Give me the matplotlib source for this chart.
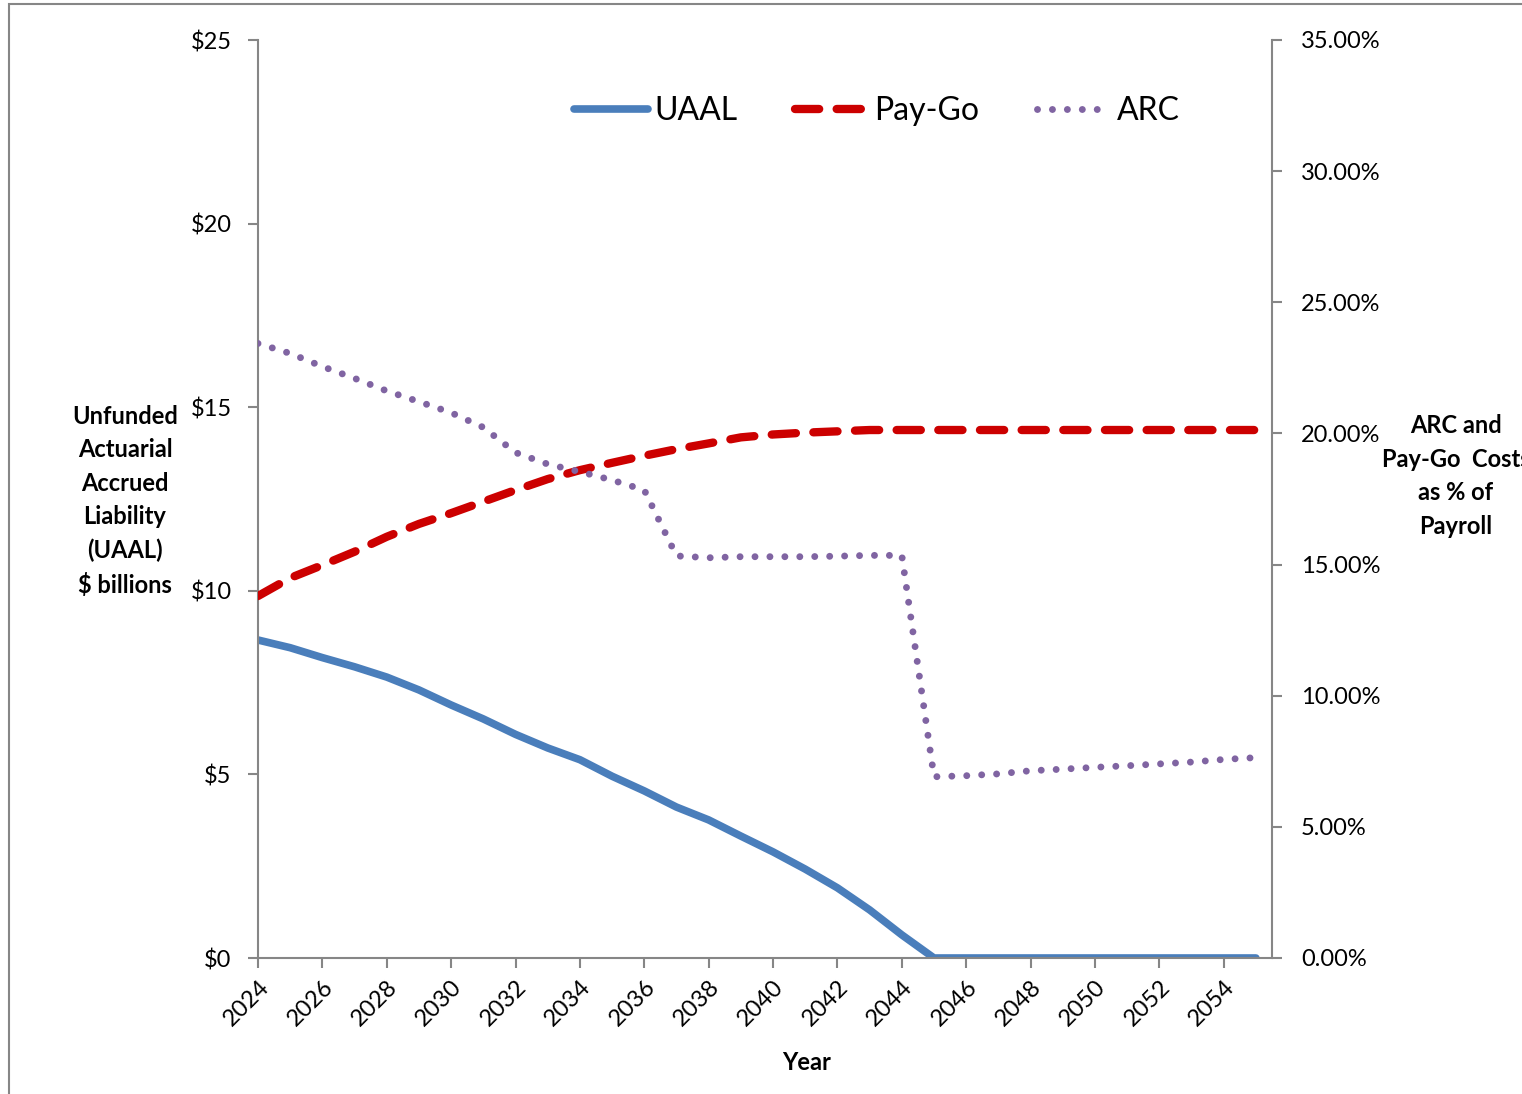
import matplotlib
matplotlib.use("Agg")
import matplotlib.pyplot as plt
from matplotlib.patches import Rectangle
from matplotlib.ticker import FuncFormatter

plt.rcParams['font.family'] = ['Lato', 'DejaVu Sans']

years = list(range(2024, 2056))
uaal = [8.66, 8.45, 8.18, 7.93, 7.65, 7.30, 6.89, 6.51, 6.09, 5.72, 5.40,
        4.95, 4.55, 4.11, 3.76, 3.32, 2.89, 2.42, 1.91, 1.31, 0.63] + [0.0] * 11
paygo = [13.80, 14.49, 14.98, 15.49, 16.06, 16.55, 16.96, 17.40, 17.84, 18.26,
         18.60, 18.88, 19.15, 19.40, 19.62, 19.85, 19.96, 20.03, 20.08, 20.13] + [20.13] * 12
arc = [23.43, 23.05, 22.55, 22.10, 21.62, 21.21, 20.79, 20.23, 19.27, 18.83,
       18.54, 18.22, 17.84,
       15.33, 15.26, 15.30, 15.30, 15.30, 15.32, 15.35, 15.35,
       6.91, 6.95, 7.02, 7.14, 7.20, 7.27, 7.33, 7.40, 7.47, 7.57, 7.64]
year_ticks = list(range(2024, 2055, 2))

gray = "#868686"

fig = plt.figure(figsize=(15.22, 10.94), dpi=100)
ax = fig.add_axes([258 / 1522, 1 - 958 / 1094, (1272 - 258) / 1522, (958 - 40) / 1094])
ax2 = ax.twinx()

# outer chart frame (only left and top edges visible in the crop)
fig.add_artist(Rectangle((9 / 1522, -0.05), 1.1, 1 - 4 / 1094 + 0.05,
                         transform=fig.transFigure, fill=False,
                         edgecolor=gray, linewidth=1.5))

l1, = ax.plot(years, uaal, color="#4A7EBB", linewidth=5.5,
              solid_capstyle="round", solid_joinstyle="round", label="UAAL")
l2, = ax2.plot(years, paygo, color="#CC0000", linewidth=6,
               dashes=(2.9, 2.1), dash_capstyle="round", label="Pay-Go")
l3, = ax2.plot(years, arc, color="#8064A2", linewidth=5,
               dashes=(0.001, 2.15), dash_capstyle="round", label="ARC")

ax.set_xlim(2024, 2055.5)
ax.set_ylim(0, 25)
ax2.set_ylim(0, 35)

ax.set_yticks([0, 5, 10, 15, 20, 25])
ax.yaxis.set_major_formatter(FuncFormatter(lambda v, p: f"${v:.0f}"))
ax2.set_yticks([0, 5, 10, 15, 20, 25, 30, 35])
ax2.yaxis.set_major_formatter(FuncFormatter(lambda v, p: f"{v:.2f}%"))
ax.set_xticks(year_ticks)
ax.set_xticklabels([str(y) for y in year_ticks], rotation=45, ha="right",
                   rotation_mode="anchor")

for a in (ax, ax2):
    for s in a.spines.values():
        s.set_visible(False)
    a.tick_params(colors=gray, labelcolor="black", labelsize=17,
                  width=1.5, length=7)
ax.spines["left"].set_visible(True)
ax.spines["bottom"].set_visible(True)
ax2.spines["right"].set_visible(True)
for s in (ax.spines["left"], ax.spines["bottom"], ax2.spines["right"]):
    s.set_color(gray)
    s.set_linewidth(1.5)
ax.tick_params(axis="y", pad=12)
ax2.tick_params(axis="y", pad=14)
ax.tick_params(axis="x", pad=6)

fig.text(125 / 1522, 1 - 501 / 1094,
         "Unfunded\nActuarial\nAccrued\nLiability\n(UAAL)\n$ billions",
         ha="center", va="center", fontsize=17, fontweight="bold",
         linespacing=1.55)
fig.text(1456 / 1522, 1 - 476 / 1094,
         "ARC and\nPay-Go  Costs\nas % of\nPayroll",
         ha="center", va="center", fontsize=17, fontweight="bold",
         linespacing=1.55)
fig.text(807 / 1522, 1 - 1062 / 1094, "Year", ha="center", va="center",
         fontsize=17, fontweight="bold")

fig.legend(handles=[l1, l2, l3], loc="center",
           bbox_to_anchor=(877 / 1522, 1 - 111 / 1094), ncol=3,
           frameon=False, fontsize=23, handlelength=2.3, handletextpad=0.2,
           columnspacing=1.8)

fig.savefig("out.png", dpi=100)
